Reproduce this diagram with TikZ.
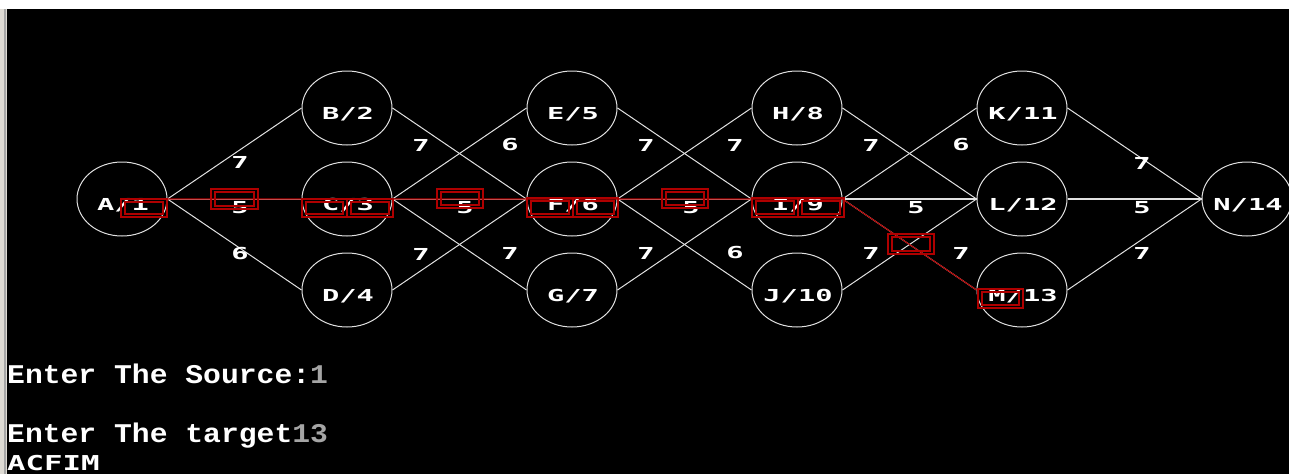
\documentclass[tikz,border=0pt]{standalone}
\usepackage{fontspec}
\usetikzlibrary{shapes.geometric}
\newfontfamily\bgifont[FakeStretch=1.74]{DejaVu Sans Mono}
\newfontfamily\acfont[FakeStretch=1.5]{DejaVu Sans Mono}
\newfontfamily\confont[FakeStretch=1.1]{Liberation Mono}
\definecolor{hlred}{RGB}{175,0,0}
\definecolor{edgegray}{RGB}{225,225,225}
\definecolor{graytxt}{RGB}{165,165,165}
\definecolor{winframe}{RGB}{222,219,212}
\newcommand\hlbox[4]{%
  \draw[hl] (#1,#2) rectangle (#3,#4);
  \draw[hl] ({#1+4},{#2+3}) rectangle ({#3-4},{#4-3});
}
\tikzset{
  vert/.style={draw=edgegray, line width=1pt, ellipse, minimum width=90pt, minimum height=74pt, inner sep=0pt},
  vname/.style={text=white, font=\bgifont\bfseries\fontsize{16.5}{16.5}\selectfont, inner sep=0pt},
  wlbl/.style={text=white, font=\bgifont\bfseries\fontsize{16.5}{16.5}\selectfont, inner sep=0pt},
  wire/.style={draw=edgegray, line width=1pt},
  thickwire/.style={draw=edgegray, line width=1.8pt},
  route/.style={draw=hlred, line width=1.1pt},
  hl/.style={draw=hlred, line width=1.2pt},
  contxt/.style={text=white, font=\confont\bfseries\fontsize{27}{27}\selectfont, inner sep=0pt, anchor=base west},
  actxt/.style={text=white, font=\acfont\bfseries\fontsize{20.5}{20.5}\selectfont, inner sep=0pt, anchor=base west},
}
\begin{document}
\begin{tikzpicture}[x=1pt,y=-1pt]
\useasboundingbox (0,0) rectangle (1289,474);
\clip (0,0) rectangle (1289,474);
% background and window frame
\fill[black] (0,0) rectangle (1289,474);
\fill[white] (0,0) rectangle (1289,9);
\fill[winframe] (0,9) rectangle (7,474);
\draw[gray!70, line width=1.5pt] (5.2,9) -- (5.2,474);

% vertices
\node[vert] (A) at (122,199) {};
\node[vert] (B) at (347,108) {};
\node[vert] (C) at (347,199) {};
\node[vert] (D) at (347,290) {};
\node[vert] (E) at (572,108) {};
\node[vert] (F) at (572,199) {};
\node[vert] (G) at (572,290) {};
\node[vert] (H) at (797,108) {};
\node[vert] (I) at (797,199) {};
\node[vert] (J) at (797,290) {};
\node[vert] (K) at (1022,108) {};
\node[vert] (L) at (1022,199) {};
\node[vert] (M) at (1022,290) {};
\node[vert] (N) at (1247,199) {};

% edges
\draw[wire] (A.east) -- (B.west);
\draw[wire] (A.east) -- (C.west);
\draw[wire] (A.east) -- (D.west);
\draw[wire] (B.east) -- (F.west);
\draw[wire] (C.east) -- (E.west);
\draw[wire] (C.east) -- (F.west);
\draw[wire] (C.east) -- (G.west);
\draw[wire] (D.east) -- (F.west);
\draw[wire] (E.east) -- (I.west);
\draw[wire] (F.east) -- (H.west);
\draw[wire] (F.east) -- (I.west);
\draw[wire] (F.east) -- (J.west);
\draw[wire] (G.east) -- (I.west);
\draw[wire] (H.east) -- (L.west);
\draw[wire] (I.east) -- (K.west);
\draw[thickwire] (I.east) -- (L.west);
\draw[wire] (I.east) -- (M.west);
\draw[wire] (J.east) -- (L.west);
\draw[wire] (K.east) -- (N.west);
\draw[thickwire] (L.east) -- (N.west);
\draw[wire] (M.east) -- (N.west);

% highlighted shortest path
\draw[route] (A.east) -- (I.east) -- (M.west);

% vertex names
\node[vname] (tA) at (123,205) {A/1};
\node[vname] (tB) at (348,114) {B/2};
\node[vname] (tC) at (348,205) {C/3};
\node[vname] (tD) at (348,296) {D/4};
\node[vname] (tE) at (573,114) {E/5};
\node[vname] (tF) at (573,205) {F/6};
\node[vname] (tG) at (573,296) {G/7};
\node[vname] (tH) at (798,114) {H/8};
\node[vname] (tI) at (798,205) {I/9};
\node[vname] (tJ) at (798,296) {J/10};
\node[vname] (tK) at (1023,114) {K/11};
\node[vname] (tL) at (1023,205) {L/12};
\node[vname] (tM) at (1023,296) {M/13};
\node[vname] (tN) at (1248,205) {N/14};

% weights
\node[wlbl] (w1) at (240,162) {7};
\node[wlbl] (w2) at (240,208) {5};
\node[wlbl] (w3) at (240,254) {6};
\node[wlbl] (w4) at (421,145) {7};
\node[wlbl] (w5) at (510,145) {6};
\node[wlbl] (w6) at (465,208) {5};
\node[wlbl] (w7) at (421,254) {7};
\node[wlbl] (w8) at (510,253) {7};
\node[wlbl] (w9) at (646,145) {7};
\node[wlbl] (w10) at (735,145) {7};
\node[wlbl] (w11) at (691,208) {5};
\node[wlbl] (w12) at (646,253) {7};
\node[wlbl] (w13) at (735,253) {6};
\node[wlbl] (w14) at (871,145) {7};
\node[wlbl] (w15) at (961,145) {6};
\node[wlbl] (w16) at (916,208) {5};
\node[wlbl] (w17) at (871,253) {7};
\node[wlbl] (w18) at (961,253) {7};
\node[wlbl] (w19) at (1142,163) {7};
\node[wlbl] (w20) at (1142,208) {5};
\node[wlbl] (w21) at (1142,253) {7};

% red highlight boxes
\hlbox{121}{199}{167}{217}
\hlbox{211}{189}{258}{209}
\hlbox{302}{199}{347}{217}
\hlbox{347}{199}{393}{217}
\hlbox{437}{189}{483}{208}
\hlbox{527}{198}{573}{217}
\hlbox{573}{198}{618}{217}
\hlbox{662}{189}{708}{208}
\hlbox{752}{198}{798}{217}
\hlbox{798}{198}{844}{217}
\hlbox{888}{234}{934}{254}
\hlbox{978}{289}{1023}{308}

% console text
\node[contxt] (src) at (7,383) {Enter The Source:\textcolor{graytxt}{1}};
\node[contxt] (tgt) at (7,442) {Enter The target\textcolor{graytxt}{13}};
\node[actxt] (res) at (7,470) {ACFIM};
\end{tikzpicture}
\end{document}
